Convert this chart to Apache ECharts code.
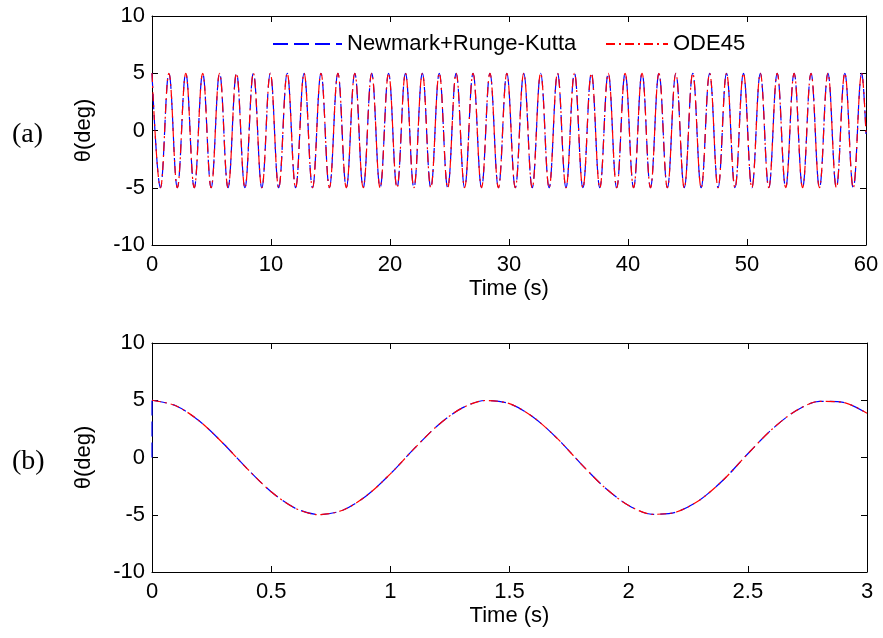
<!DOCTYPE html>
<html><head><meta charset="utf-8">
<script src="https://cdn.jsdelivr.net/npm/echarts@6/dist/echarts.min.js"></script>
<style>html,body{margin:0;padding:0;background:#fff}#c{width:883px;height:638px}</style>
</head><body><div id="c"></div>
<script>
// ---- data ----
// (a) extremes of the oscillation over 0-60 s (time in s, theta in deg)
const topTimes = [0,0.71,1.42,2.13,2.84,3.55,4.26,4.97,5.68,6.39,7.1,7.81,8.52,9.23,9.94,10.65,11.36,12.07,12.78,13.49,14.2,14.91,15.62,16.33,17.04,17.75,18.46,19.17,19.88,20.59,21.3,22.01,22.72,23.43,24.14,24.85,25.56,26.27,26.98,27.69,28.4,29.11,29.82,30.53,31.24,31.95,32.66,33.37,34.08,34.79,35.5,36.21,36.92,37.63,38.34,39.05,39.76,40.47,41.18,41.89,42.6,43.31,44.02,44.73,45.44,46.15,46.86,47.57,48.28,48.99,49.7,50.41,51.12,51.83,52.54,53.25,53.96,54.67,55.38,56.09,56.8,57.51,58.22,58.93,59.64,60];
const topNewmark = [5,-5,5,-5,5,-5,5,-5,5,-5,5,-5,5,-5,5,-5,5,-5,5,-5,5,-5,5,-5,5,-5,5,-5,5,-5,5,-5,5,-5,5,-5,5,-5,5,-5,5,-5,5,-5,5,-5,5,-5,5,-5,5,-5,5,-5,5,-5,5,-5,5,-5,5,-5,5,-5,5,-5,5,-5,5,-5,5,-5,5,-5,5,-5,5,-5,5,-5,5,-5,5,-5,5,-0.3];
const topOde45   = [5,-5,5,-5,5,-5,5,-5,5,-5,5,-5,5,-5,5,-5,5,-5,5,-5,5,-5,5,-5,5,-5,5,-5,5,-5,5,-5,5,-5,5,-5,5,-5,5,-5,5,-5,5,-5,5,-5,5,-5,5,-5,5,-5,5,-5,5,-5,5,-5,5,-5,5,-5,5,-5,5,-5,5,-5,5,-5,5,-5,5,-5,5,-5,5,-5,5,-5,5,-5,5,-5,5,-0.3];
// (b) first 3 s, read every 0.1 s
const botTimes   = [0,0.1,0.2,0.3,0.4,0.5,0.6,0.7,0.8,0.9,1.0,1.1,1.2,1.3,1.4,1.5,1.6,1.7,1.8,1.9,2.0,2.1,2.2,2.3,2.4,2.5,2.6,2.7,2.8,2.9,3.0];
const botNewmark = [5,4.52,3.17,1.2,-0.99,-2.99,-4.42,-4.99,-4.61,-3.34,-1.43,0.77,2.82,4.31,4.98,4.7,3.52,1.67,-0.55,-2.63,-4.19,-4.96,-4.76,-3.68,-1.9,0.33,2.44,4.06,4.9,4.82,3.86];
const botOde45   = [5,4.52,3.17,1.2,-0.99,-2.99,-4.42,-4.99,-4.61,-3.34,-1.43,0.77,2.82,4.31,4.98,4.7,3.52,1.67,-0.55,-2.63,-4.19,-4.96,-4.76,-3.68,-1.9,0.33,2.44,4.06,4.9,4.82,3.86];
// Newmark start-up jump at t = 0 in (b)
const botStartTimes = [0,0];
const botStartVals  = [0,5];
// tick labels
const yTickLabels   = ['-10','-5','0','5','10'];
const topTickLabels = ['0','10','20','30','40','50','60'];
const botTickLabels = ['0','0.5','1','1.5','2','2.5','3'];
const seriesNames = ['Newmark+Runge-Kutta','ODE45'];

// ---- chart ----
const FONT = 'Liberation Sans, Arial, sans-serif';
const zip = (a,b)=>a.map((v,i)=>[v,b[i]]);
const num = a=>a.map(Number);
const yv = num(yTickLabels), tv = num(topTickLabels), bv = num(botTickLabels);

const grids = [
  {left:152, top:16, width:714, height:229},
  {left:152, top:343, width:715, height:229}
];
function xAx(grid, vals, pos, labels, name){
  return {
    type:'value', gridIndex:grid, position:pos,
    min:vals[0], max:vals[vals.length-1], interval:vals[1]-vals[0],
    axisLine:{show:true, onZero:false, lineStyle:{color:'#000', width:1}},
    axisTick:{show:true, inside:true, length:6, lineStyle:{color:'#000'}},
    axisLabel:{show:labels, margin:9, color:'#000', fontFamily:FONT, fontSize:22,
      formatter:v=>String(+v.toFixed(2))},
    splitLine:{show:false},
    name: name||'', nameLocation:'middle', nameGap:33,
    nameTextStyle:{color:'#000', fontFamily:FONT, fontSize:22}
  };
}
function yAx(grid, pos, labels){
  return {
    type:'value', gridIndex:grid, position:pos,
    min:yv[0], max:yv[yv.length-1], interval:yv[1]-yv[0],
    axisLine:{show:true, onZero:false, lineStyle:{color:'#000', width:1}},
    axisTick:{show:true, inside:true, length:6, lineStyle:{color:'#000'}},
    axisLabel:{show:labels, margin:7, color:'#000', fontFamily:FONT, fontSize:22},
    splitLine:{show:false},
    name: labels ? 'θ(deg)' : '', nameLocation:'middle', nameGap:57,
    nameTextStyle:{color:'#000', fontFamily:FONT, fontSize:22}
  };
}
const blueStyle = {color:'#0000ff', width:1.2, type:[15,6]};
const redStyle  = {color:'#ff0000', width:1.2, type:[9,4,2,4]};

const legendCommon = {top:33, itemHeight:14, padding:0, itemStyle:{opacity:0},
  textStyle:{color:'#000', fontFamily:FONT, fontSize:22}};
const option = {
  animation:false,
  backgroundColor:'#fff',
  grid: grids,
  xAxis:[
    xAx(0, tv, 'bottom', true, 'Time (s)'),
    xAx(0, tv, 'top', false),
    xAx(1, bv, 'bottom', true, 'Time (s)'),
    xAx(1, bv, 'top', false)
  ],
  yAxis:[
    yAx(0,'left',true), yAx(0,'right',false),
    yAx(1,'left',true), yAx(1,'right',false)
  ],
  legend:[
    Object.assign({data:[seriesNames[0]], left:272, itemWidth:69}, legendCommon),
    Object.assign({data:[seriesNames[1]], left:605, itemWidth:62}, legendCommon)
  ],
  graphic:[
    {type:'text', left:12, top:121, style:{text:'(a)', fill:'#000', font:'28px "Liberation Serif", "Times New Roman", serif'}},
    {type:'text', left:12, top:448, style:{text:'(b)', fill:'#000', font:'28px "Liberation Serif", "Times New Roman", serif'}}
  ],
  series:[
    {name:seriesNames[0], type:'line', xAxisIndex:0, yAxisIndex:0, data:zip(topTimes, topNewmark),
     symbol:'none', smooth:0.4, smoothMonotone:'x', lineStyle:blueStyle, itemStyle:{color:'#0000ff'}},
    {name:seriesNames[1], type:'line', xAxisIndex:0, yAxisIndex:0, data:zip(topTimes, topOde45),
     symbol:'none', smooth:0.4, smoothMonotone:'x', lineStyle:redStyle, itemStyle:{color:'#ff0000'}},
    {name:seriesNames[0], type:'line', xAxisIndex:2, yAxisIndex:2, data:zip(botTimes, botNewmark),
     symbol:'none', smooth:0.3, lineStyle:blueStyle, itemStyle:{color:'#0000ff'}},
    {name:seriesNames[0], type:'line', xAxisIndex:2, yAxisIndex:2, data:zip(botStartTimes, botStartVals),
     symbol:'none', lineStyle:blueStyle, itemStyle:{color:'#0000ff'}},
    {name:seriesNames[1], type:'line', xAxisIndex:2, yAxisIndex:2, data:zip(botTimes, botOde45),
     symbol:'none', smooth:0.3, lineStyle:redStyle, itemStyle:{color:'#ff0000'}}
  ]
};
const chart = echarts.init(document.getElementById('c'), null, {renderer:'canvas'});
chart.setOption(option);
</script>
</body></html>
